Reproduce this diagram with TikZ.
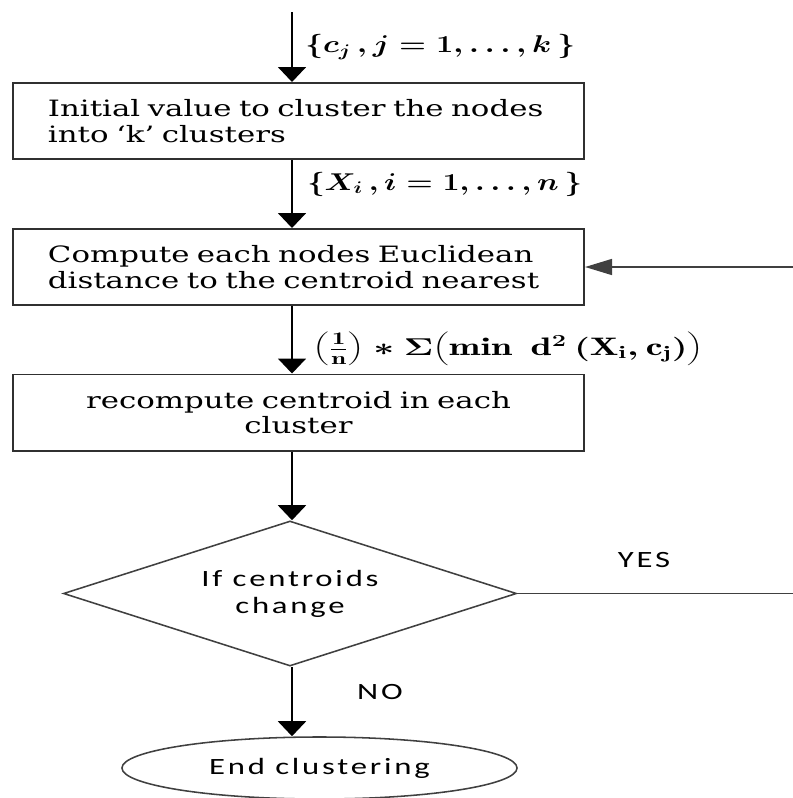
\documentclass[tikz,border=0pt]{standalone}
\usepackage{fontspec}
\usepackage{graphicx}
\usetikzlibrary{arrows.meta,shapes.geometric}
\newfontfamily\boxserif[FakeStretch=1.37]{DejaVu Serif}
\newfontfamily\boxsans[FakeStretch=1.4,LetterSpace=12]{Carlito}
\definecolor{frame}{HTML}{303030}
\definecolor{outline}{HTML}{404040}
\newcommand{\widemath}[3]{\scalebox{#1}[1]{\fontsize{#2}{20}\selectfont\boldmath$#3$}}

\begin{document}
\begin{tikzpicture}[x=0.025cm, y=-0.025cm,
  stepbox/.style={draw=frame, line width=1.4pt, minimum width=14.275cm,
    minimum height=1.9cm, inner xsep=0.875cm, inner ysep=0pt,
    text width=12.525cm, font=\boxserif\fontsize{16}{18.2}\selectfont},
  decision/.style={diamond, aspect=3.12, draw=outline, line width=1.1pt,
    inner sep=0pt, minimum width=11.325cm, minimum height=3.625cm,
    align=center, font=\boxsans\fontsize{16.6}{19.2}\selectfont},
  terminal/.style={ellipse, draw=outline, line width=1.1pt, inner sep=0pt,
    minimum width=9.875cm, minimum height=1.55cm,
    font=\boxsans\fontsize{16.6}{19.2}\selectfont},
  answer/.style={font=\boxsans\fontsize{16.6}{19.2}\selectfont},
  flow/.style={line width=1.4pt, -{Triangle[width=0.7cm,length=0.375cm]}},
  back/.style={line width=1.1pt, draw=outline,
    -{Triangle[width=0.4cm,length=0.675cm]}}]
  \useasboundingbox (0,0) rectangle (793,798);

  % Process boxes
  \node[stepbox, align=left] (init) at (298.5,121)
    {Initial value to cluster the nodes\\into ‘k’ clusters};
  \node[stepbox, align=left] (dist) at (298.5,267)
    {Compute each nodes Euclidean\\distance to the centroid nearest};
  \node[stepbox, align=center] (recomp) at (298.5,412.5)
    {recompute centroid in each\\cluster};

  % Decision and end
  \node[decision] (chg) at (290,593.5) {If centroids\\change};
  \node[terminal] (endc) at (319.5,768) {End clustering};

  % Spine of the flow
  \coordinate (in) at (292,12);
  \coordinate (rim) at (793,0);
  \draw[flow] (in) -- (in |- init.north);
  \draw[flow] (in |- init.south) -- (in |- dist.north);
  \draw[flow] (in |- dist.south) -- (in |- recomp.north);
  \draw[flow] (in |- recomp.south) -- (in |- chg.north);
  \draw[flow] (in |- chg.south) -- (in |- endc.north);

  % Loop back on YES
  \draw[line width=1.1pt, draw=outline] (chg.east) -- (chg.east -| rim);
  \draw[back] (dist.east -| rim) -- (dist.east);

  % Labels
  \node[anchor=west, inner sep=0pt] (lc) at (305,47)
    {\widemath{1.27}{17}{\{c_j\,, j=1,\ldots,k\,\}}};
  \node[anchor=west, inner sep=0pt] (lx) at (307,184)
    {\widemath{1.25}{17}{\{X_i\,, i=1,\ldots,n\,\}}};
  \node[anchor=west, inner sep=0pt] (ld) at (313,349)
    {\widemath{1.5}{18}{\biggl(\frac{\mathrm{1}}{\mathrm{n}}\biggr) * \Sigma
      \biggl(\min\ \mathrm{d}^2\,(\mathrm{X_i}, \mathrm{c_j})\biggr)}};
  \node[answer] (yes) at (644,560) {YES};
  \node[answer] (no) at (380,692) {NO};
\end{tikzpicture}
\end{document}
